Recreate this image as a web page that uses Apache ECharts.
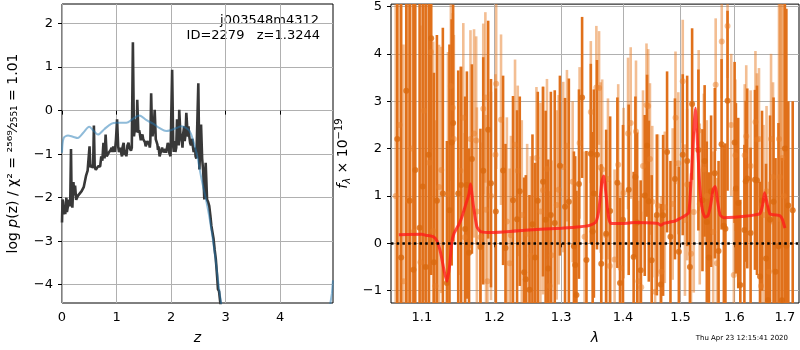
<!DOCTYPE html>
<html lang="en">
<head>
<meta charset="UTF-8">
<title>Redshift fit j003548m4312</title>
<script src="https://cdn.jsdelivr.net/npm/echarts@6/dist/echarts.min.js"></script>
<style>
  html, body { margin: 0; padding: 0; background: #fff; }
  #chart { width: 800px; height: 350px; }
</style>
</head>
<body>
<div id="chart"></div>
<script>
// ---- left panel: log p(z) (black) and chi2 curve (blue), [z, value] ----
const pzCurve = [
  [0.00,-2.57],[0.01,-2.04],[0.02,-2.10],[0.03,-2.38],[0.05,-2.25],[0.06,-2.38],[0.08,-2.00],[0.09,-2.33],
  [0.11,-2.35],[0.13,-2.05],[0.15,-2.20],[0.165,-0.88],[0.175,-1.90],[0.19,-2.23],[0.21,-1.64],[0.225,-1.95],
  [0.24,-1.72],[0.26,-2.05],[0.29,-1.96],[0.32,-1.98],[0.36,-1.85],[0.40,-1.75],[0.44,-1.50],[0.47,-1.38],
  [0.49,-1.40],[0.505,-0.82],[0.52,-1.30],[0.55,-1.25],[0.57,-1.32],[0.585,-0.34],[0.60,-1.30],[0.62,-1.36],
  [0.64,-1.33],[0.66,-1.28],[0.68,-1.30],[0.70,-1.28],[0.72,-1.05],[0.74,-1.15],[0.76,-0.74],[0.78,-1.10],
  [0.80,-0.55],[0.82,-1.05],[0.85,-0.98],[0.865,-1.02],[0.88,-0.97],[0.895,-0.90],[0.91,-0.85],[0.925,-0.95],
  [0.94,-0.82],[0.97,-0.95],[0.99,-0.66],[1.01,-0.20],[1.03,-0.82],[1.045,-0.95],[1.06,-0.90],[1.075,-0.85],
  [1.09,-1.00],[1.10,-1.05],[1.11,-0.85],[1.13,-0.74],[1.15,-1.02],[1.165,-0.90],[1.18,-1.05],[1.19,-0.95],
  [1.20,-0.80],[1.22,-0.74],[1.235,-0.85],[1.25,-0.88],[1.265,-0.92],[1.28,-0.85],[1.30,1.57],[1.32,-0.59],
  [1.34,-0.35],[1.355,-0.20],[1.37,-0.50],[1.38,0.25],[1.40,-0.51],[1.415,-0.45],[1.43,-0.55],[1.445,-0.68],
  [1.46,-0.60],[1.475,-0.55],[1.49,-0.66],[1.505,-0.62],[1.52,-0.72],[1.535,-0.82],[1.55,-0.78],[1.565,-0.70],
  [1.58,-0.74],[1.60,-0.78],[1.61,-0.85],[1.62,-0.72],[1.635,0.40],[1.65,-0.40],[1.66,-0.59],[1.685,-0.35],
  [1.70,0.02],[1.72,-0.66],[1.735,-0.72],[1.75,-0.78],[1.76,-0.90],[1.77,-0.82],[1.79,-1.05],[1.805,-0.98],
  [1.82,-0.92],[1.835,-0.85],[1.85,-0.89],[1.865,-0.96],[1.88,-0.95],[1.895,-0.88],[1.91,-0.97],[1.925,-1.00],
  [1.94,-0.74],[1.955,-0.80],[1.97,-0.98],[1.99,-1.05],[2.02,0.94],[2.04,-0.82],[2.05,-0.95],[2.06,-0.70],
  [2.07,-0.75],[2.08,-0.95],[2.095,-0.85],[2.11,-0.20],[2.12,-0.45],[2.13,-0.60],[2.14,-0.80],[2.15,0.02],
  [2.17,-0.51],[2.185,-0.65],[2.20,-0.74],[2.21,-0.85],[2.22,-0.55],[2.24,-0.36],[2.25,-0.70],[2.26,-0.60],
  [2.27,-0.40],[2.28,-0.05],[2.30,-0.45],[2.31,-0.60],[2.32,-0.36],[2.33,-0.55],[2.35,-0.74],[2.365,-0.80],
  [2.38,-0.70],[2.39,-0.65],[2.40,-0.82],[2.415,-0.95],[2.43,-0.90],[2.44,-0.85],[2.45,-1.05],[2.465,-1.10],
  [2.48,-1.10],[2.50,0.63],[2.52,-1.35],[2.55,-0.32],[2.57,-1.10],[2.59,-1.40],[2.61,-2.04],[2.635,-1.20],
  [2.66,-2.04],[2.68,-2.10],[2.70,-2.19],[2.72,-2.40],[2.74,-2.65],[2.76,-2.80],[2.78,-2.95],[2.80,-3.20],
  [2.82,-3.40],[2.83,-3.56],[2.85,-3.90],[2.86,-4.10],[2.88,-4.15],[2.89,-4.18],[2.92,-4.60]
];
const chiCurve = [
  [0.00,-0.97],[0.03,-0.63],[0.11,-0.57],[0.20,-0.60],[0.29,-0.63],[0.39,-0.51],[0.50,-0.37],[0.57,-0.45],
  [0.66,-0.55],[0.78,-0.42],[0.91,-0.30],[1.00,-0.28],[1.18,-0.28],[1.30,-0.19],[1.42,-0.11],[1.55,-0.22],
  [1.67,-0.30],[1.79,-0.40],[1.91,-0.47],[1.99,-0.45],[2.10,-0.40],[2.19,-0.36],[2.28,-0.40],[2.34,-0.47],
  [2.40,-0.66],[2.48,-1.05],[2.56,-1.58],[2.64,-2.04],[2.71,-2.50],[2.80,-3.26],[2.89,-4.18],[2.94,-4.60]
];
const chiTail = [[4.90,-4.60],[4.95,-4.20],[4.97,-3.90]];
const zTicks = [0, 1, 2, 3, 4];
const pzTicks = [-4, -3, -2, -1, 0, 1, 2];

// ---- right panel: spectrum [lambda, flux, err] ----
const darkPoints = [
  [1.068,2.2,6],[1.073,-0.3,7],[1.0796,3.22,6],[1.084,0.9,6],[1.089,-0.56,6],[1.0913,1.55,5],[1.097,0.33,6],
  [1.101,1.2,4.5],[1.105,-0.5,6],[1.109,1.87,5],[1.1123,4.33,5],[1.116,-0.4,4],[1.120,0.9,3.5],[1.128,1.05,3.5],
  [1.1335,-0.84,3],[1.137,0.7,3.5],[1.140,2.13,2.6],[1.142,2.54,2.5],[1.149,1.05,2.6],[1.153,1.23,2.5],
  [1.1586,0.3,2.8],[1.161,1.23,2.4],[1.164,-0.2,2.2],[1.168,1.78,2.0],[1.180,-0.08,2.5],[1.184,1.53,2.4],
  [1.191,2.4,2.3],[1.195,1.27,2.2],[1.202,0.67,2.6],[1.2125,1.54,2.0],[1.216,-0.1,2.2],[1.227,0.91,2.2],
  [1.233,0.51,2.3],[1.237,1.1,2.0],[1.2435,-0.61,2.0],[1.246,-0.76,2.2],[1.2515,-0.98,2.0],[1.256,0.4,1.9],
  [1.260,-0.3,2.0],[1.264,0.9,2.3],[1.272,1.3,2.0],[1.276,0.5,2.3],[1.280,-0.53,2.3],[1.284,0.6,2.6],
  [1.290,0.43,2.8],[1.298,1.64,1.9],[1.306,0.77,2.3],[1.312,0.88,2.6],[1.320,-0.06,2.0],[1.322,-0.46,2.3],
  [1.324,-1.09,2.2],[1.328,1.25,2.0],[1.333,3.08,1.7],[1.340,-0.35,2.3],[1.347,1.89,1.9],[1.350,0.25,2.1],
  [1.352,1.05,2.2],[1.357,1.87,2.0],[1.364,-0.43,2.1],[1.372,0.2,2.2],[1.3786,0.68,2.0],[1.3906,1.28,1.8],
  [1.395,-0.84,1.8],[1.400,0.5,2.0],[1.4096,1.13,1.8],[1.418,-0.29,1.8],[1.421,1.4,1.7],[1.424,0.44,1.9],
  [1.430,-0.57,1.9],[1.437,1.01,1.7],[1.441,2.06,1.5],[1.444,0.89,1.7],[1.449,-0.36,1.8],[1.458,0.6,1.7],
  [1.465,-0.87,1.7],[1.469,0.59,1.7],[1.476,1.93,1.7],[1.482,0.14,1.6],[1.490,1.36,1.7],[1.497,-0.18,1.8],
  [1.504,1.87,1.7],[1.512,1.74,1.8],[1.517,-0.5,1.8],[1.521,2.94,1.6],[1.5325,1.97,1.7],[1.540,0.91,1.5],
  [1.544,1.74,1.6],[1.548,0.45,1.7],[1.552,-0.3,1.8],[1.556,1.1,1.6],[1.563,1.48,1.8],[1.570,-0.16,1.9],
  [1.5757,2.09,1.8],[1.580,0.37,1.7],[1.583,0.31,1.8],[1.587,3.01,1.9],[1.6005,2.13,1.7],[1.603,1.16,1.8],
  [1.6075,0.85,1.8],[1.6115,-0.88,1.8],[1.6194,0.28,1.8],[1.622,1.31,1.7],[1.625,1.37,1.9],[1.6315,0.22,1.8],
  [1.640,1.34,1.9],[1.644,1.33,2.0],[1.650,-0.7,2.0],[1.654,0.9,1.9],[1.662,-0.32,2.0],[1.666,-1.2,2.0],
  [1.670,0.5,2.2],[1.677,0.88,2.2],[1.681,-0.6,2.4],[1.687,-0.06,2.6],[1.694,-1.2,3.0],[1.700,2.0,6],
  [1.703,-0.05,5],[1.707,0.8,2.2],[1.716,0.7,2.3]
];
const lightPoints = [
  [1.066,1.0,6],[1.071,2.5,6],[1.076,-0.8,5],[1.082,0.9,6],[1.086,2.0,5],[1.089,0.24,5],[1.098,-0.4,5],
  [1.103,2.8,4],[1.110,1.7,4],[1.112,4.04,4],[1.115,0.26,4],[1.118,-0.9,3.5],[1.1228,1.19,3],[1.126,1.55,2.6],
  [1.135,1.04,3],[1.1389,3.32,2],[1.1415,2.86,2],[1.143,2.2,2.2],[1.152,1.53,2.2],[1.156,2.65,2.0],
  [1.158,0.13,2.2],[1.166,2.2,2.3],[1.171,2.32,2.2],[1.174,2.17,2.2],[1.175,0.67,2.2],[1.180,0.13,2.0],
  [1.184,2.84,1.8],[1.187,3.08,1.8],[1.188,0.71,2.0],[1.190,-0.8,2.0],[1.195,1.0,2.2],[1.2015,1.87,1.7],
  [1.2025,3.37,1.8],[1.2095,2.61,1.8],[1.218,0.46,2.2],[1.222,-0.42,2.0],[1.224,0.17,2.1],[1.230,2.08,1.8],
  [1.234,1.53,1.8],[1.240,0.6,2.0],[1.248,0.2,1.9],[1.2535,-0.26,2.1],[1.262,1.8,1.5],[1.268,0.67,2.3],
  [1.272,1.12,2.2],[1.278,1.57,1.9],[1.282,-0.9,2.0],[1.285,-0.25,2.0],[1.293,0.81,2.0],[1.296,1.13,2.0],
  [1.3032,1.61,1.8],[1.309,2.06,1.6],[1.318,1.3,1.7],[1.329,2.12,1.6],[1.337,0.14,1.8],[1.347,2.77,1.5],
  [1.356,3.29,1.3],[1.3604,3.28,1.2],[1.363,1.6,1.8],[1.3655,1.56,1.9],[1.372,0.17,2.0],[1.375,1.36,1.7],
  [1.378,-0.48,1.8],[1.386,-0.34,1.9],[1.392,1.66,1.7],[1.396,-0.52,1.8],[1.401,1.06,1.8],[1.4085,2.32,1.6],
  [1.413,2.54,1.6],[1.422,2.36,1.5],[1.426,-0.8,1.7],[1.431,-0.93,1.6],[1.434,1.63,1.6],[1.440,2.92,1.3],
  [1.443,2.9,1.2],[1.446,1.78,1.6],[1.450,0.88,1.6],[1.455,-1.02,1.6],[1.460,0.8,1.5],[1.466,-0.6,1.6],
  [1.472,0.76,1.6],[1.486,0.83,1.6],[1.491,2.65,1.4],[1.496,1.69,1.5],[1.504,3.42,1.3],[1.508,0.49,1.6],
  [1.512,1.24,1.6],[1.519,-0.22,1.7],[1.524,0.66,1.7],[1.533,2.38,1.7],[1.535,0.83,1.7],[1.5425,1.56,1.6],
  [1.548,1.0,1.6],[1.560,0.24,1.7],[1.5646,3.35,1.4],[1.567,-0.42,1.8],[1.576,4.26,1.2],[1.587,4.59,1.1],
  [1.594,2.5,1.5],[1.599,-0.67,1.8],[1.602,1.86,1.6],[1.620,1.86,1.5],[1.623,2.26,1.5],[1.6315,1.63,1.6],
  [1.641,2.56,1.5],[1.644,2.19,1.4],[1.648,2.2,1.5],[1.652,-0.9,1.8],[1.657,0.6,1.9],[1.663,1.1,1.8],
  [1.668,-0.6,1.9],[1.672,2.2,1.8],[1.676,1.4,2.0],[1.688,2.2,6],[1.690,1.4,6],[1.692,0.5,6],
  [1.695,1.8,7],[1.698,1.0,7]
];
const modelLam = [1.07,1.10,1.105,1.115,1.12,1.125,1.13,1.1335,1.137,1.14,1.143,1.15,1.155,1.16,1.164,1.166,1.17,1.175,1.18,1.19,1.20,1.25,1.30,1.33,1.345,1.355,1.36,1.365,1.368,1.372,1.376,1.38,1.40,1.42,1.45,1.46,1.465,1.47,1.49,1.50,1.51,1.515,1.52,1.524,1.527,1.53,1.535,1.54,1.545,1.55,1.555,1.56,1.564,1.568,1.573,1.58,1.60,1.62,1.64,1.65,1.655,1.659,1.665,1.67,1.68,1.69,1.695,1.70];
const modelFlux = [0.18,0.19,0.17,0.14,0.05,-0.2,-0.6,-0.8,-0.5,0.0,0.2,0.4,0.6,0.85,1.05,1.25,0.8,0.35,0.25,0.23,0.23,0.28,0.32,0.35,0.38,0.45,0.7,1.3,1.42,1.0,0.55,0.42,0.42,0.44,0.43,0.42,0.38,0.42,0.47,0.53,0.6,0.65,1.5,2.4,2.85,2.3,1.2,0.7,0.55,0.58,0.8,1.15,1.2,0.9,0.6,0.54,0.55,0.57,0.6,0.63,0.8,1.07,0.8,0.62,0.6,0.58,0.5,0.32];
const lamTicks = [1.1, 1.2, 1.3, 1.4, 1.5, 1.6, 1.7];
const fluxTicks = [-1, 0, 1, 2, 3, 4, 5];

const lg = Math.log10;
const minus = v => (v < 0 ? '\u2212' + Math.abs(v) : String(v));
const FONT = 'DejaVu Sans';

// vertical error bar drawn through the axis scales
function errorBars(color) {
  return function (params, api) {
    const x = api.value(0), y = api.value(1), e = api.value(2);
    const top = api.coord([x, y + e]);
    const bot = api.coord([x, y - e]);
    return {
      type: 'rect',
      shape: { x: top[0] - 1.3, y: top[1], width: 2.6, height: bot[1] - top[1] },
      style: { fill: color }
    };
  };
}

const toLog = pts => pts.map(p => [lg(p[0]), p[1], p[2]]);

const tickStyle = { show: true, length: 4, lineStyle: { color: '#000' } };
const gridLine = { show: true, lineStyle: { color: '#b0b0b0', width: 1 } };
const labelStyle = { color: '#000', fontSize: 13, fontFamily: FONT };

const chart = echarts.init(document.getElementById('chart'));

chart.setOption({
  animation: false,
  backgroundColor: '#fff',
  textStyle: { fontFamily: FONT },
  grid: [
    { left: 62, top: 4, width: 271, height: 300, show: true, borderColor: '#000', borderWidth: 1 },
    { left: 391, top: 4, width: 408, height: 300, show: true, borderColor: '#000', borderWidth: 1 }
  ],
  xAxis: [
    {
      gridIndex: 0, type: 'value', min: 0, max: 4.97,
      name: 'z', nameLocation: 'middle', nameGap: 28,
      nameTextStyle: { fontStyle: 'italic', fontSize: 14, color: '#000', fontFamily: FONT },
      axisLine: { show: false },
      axisTick: Object.assign({ customValues: zTicks }, tickStyle),
      axisLabel: Object.assign({ customValues: zTicks, margin: 8, formatter: minus }, labelStyle),
      splitLine: gridLine
    },
    {
      gridIndex: 1, type: 'value', min: lg(1.060), max: lg(1.729),
      name: 'λ', nameLocation: 'middle', nameGap: 28,
      nameTextStyle: { fontStyle: 'italic', fontSize: 14, color: '#000', fontFamily: FONT },
      axisLine: { show: false },
      axisTick: Object.assign({ customValues: lamTicks.map(lg) }, tickStyle),
      axisLabel: Object.assign({ customValues: lamTicks.map(lg), margin: 8,
        formatter: v => Math.pow(10, v).toFixed(1) }, labelStyle),
      splitLine: gridLine
    }
  ],
  yAxis: [
    {
      gridIndex: 0, type: 'value', min: -4.42, max: 2.45,
      name: '{n|log }{i|p}{n|(z) / χ² = ²⁵⁶⁹⁄₂₅₅₁ = 1.01}',
      nameLocation: 'middle', nameGap: 42,
      nameTextStyle: {
        color: '#000', fontFamily: FONT,
        rich: {
          n: { fontSize: 14, color: '#000', fontFamily: FONT },
          i: { fontSize: 14, color: '#000', fontStyle: 'italic', fontFamily: FONT }
        }
      },
      axisLine: { show: false },
      axisTick: Object.assign({ customValues: pzTicks }, tickStyle),
      axisLabel: Object.assign({ customValues: pzTicks, margin: 9, formatter: minus }, labelStyle),
      splitLine: gridLine
    },
    {
      gridIndex: 1, type: 'value', min: -1.26, max: 5.05,
      name: '{i|f}{s|λ}{n| × 10}{p|−19}',
      nameLocation: 'middle', nameGap: 38,
      nameTextStyle: {
        color: '#000', fontFamily: FONT,
        rich: {
          n: { fontSize: 14, color: '#000', fontFamily: FONT },
          i: { fontSize: 14, color: '#000', fontStyle: 'italic', fontFamily: FONT },
          s: { fontSize: 10, color: '#000', fontStyle: 'italic', fontFamily: FONT, verticalAlign: 'bottom', lineHeight: 18 },
          p: { fontSize: 10, color: '#000', fontFamily: FONT, verticalAlign: 'top', lineHeight: 18 }
        }
      },
      axisLine: { show: false },
      axisTick: Object.assign({ customValues: fluxTicks }, tickStyle),
      axisLabel: Object.assign({ customValues: fluxTicks, margin: 9, formatter: minus }, labelStyle),
      splitLine: gridLine
    }
  ],
  series: [
    {
      type: 'line', xAxisIndex: 0, yAxisIndex: 0, data: pzCurve,
      showSymbol: false, clip: true,
      lineStyle: { color: '#383838', width: 2.6 }
    },
    {
      type: 'line', xAxisIndex: 0, yAxisIndex: 0, data: chiCurve,
      showSymbol: false, clip: true, smooth: 0.3,
      lineStyle: { color: 'rgba(31,119,180,0.5)', width: 2 }
    },
    {
      type: 'line', xAxisIndex: 0, yAxisIndex: 0, data: chiTail,
      showSymbol: false, clip: true,
      lineStyle: { color: 'rgba(31,119,180,0.5)', width: 2 }
    },
    {
      type: 'custom', xAxisIndex: 1, yAxisIndex: 1, clip: true,
      renderItem: errorBars('rgba(232,125,40,0.5)'),
      data: toLog(lightPoints)
    },
    {
      type: 'scatter', xAxisIndex: 1, yAxisIndex: 1, clip: true,
      symbolSize: 6, itemStyle: { color: 'rgba(232,125,40,0.6)' },
      data: toLog(lightPoints)
    },
    {
      type: 'custom', xAxisIndex: 1, yAxisIndex: 1, clip: true,
      renderItem: errorBars('#e0701a'),
      data: toLog(darkPoints)
    },
    {
      type: 'scatter', xAxisIndex: 1, yAxisIndex: 1, clip: true,
      symbolSize: 6, itemStyle: { color: '#d9690e' },
      data: toLog(darkPoints)
    },
    {
      type: 'line', xAxisIndex: 1, yAxisIndex: 1,
      data: modelLam.map((l, i) => [lg(l), modelFlux[i]]),
      showSymbol: false, smooth: 0.2,
      lineStyle: { color: 'rgba(255,25,25,0.78)', width: 3 },
      markLine: {
        silent: true, symbol: 'none', label: { show: false },
        lineStyle: { color: '#000', width: 2.5, type: [2.5, 3.2] },
        data: [{ yAxis: 0 }]
      }
    }
  ],
  graphic: [
    { type: 'text', right: 481, top: 14,
      style: { text: 'j003548m4312', fill: '#000', font: '13px "DejaVu Sans"' } },
    { type: 'text', right: 480, top: 29,
      style: { text: 'ID=2279   z=1.3244', fill: '#000', font: '13px "DejaVu Sans"' } },
    { type: 'text', right: 12, top: 335,
      style: { text: 'Thu Apr 23 12:15:41 2020', fill: '#000', font: '7px "DejaVu Sans"' } }
  ]
});
</script>
</body>
</html>
